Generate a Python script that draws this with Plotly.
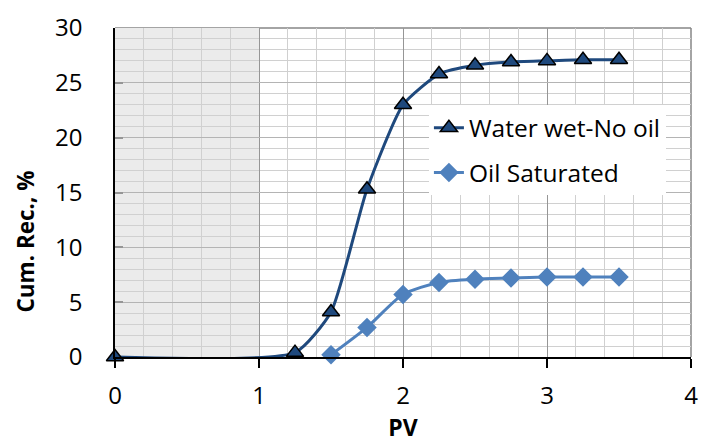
import plotly.graph_objects as go

# Cumulative recovery vs. pore volumes injected
pv_water = [0, 1.25, 1.5, 1.75, 2.0, 2.25, 2.5, 2.75, 3.0, 3.25, 3.5]
rec_water = [0, 0.4, 4.1, 15.3, 23.0, 25.8, 26.6, 26.9, 27.0, 27.1, 27.1]

pv_oil = [1.5, 1.75, 2.0, 2.25, 2.5, 2.75, 3.0, 3.25, 3.5]
rec_oil = [0.2, 2.7, 5.7, 6.8, 7.1, 7.2, 7.3, 7.3, 7.3]

x_ticks = [0, 1, 2, 3, 4]
y_ticks = [0, 5, 10, 15, 20, 25, 30]

DARK = "#1F497D"
LIGHT = "#4F81BD"
FONT = "Open Sans"

fig = go.Figure()

fig.add_trace(go.Scatter(
    x=pv_water, y=rec_water, name="Water wet-No oil",
    mode="lines+markers", line=dict(color=DARK, width=3, shape="spline", smoothing=0.55),
    marker=dict(symbol="triangle-up", size=15, color=DARK, line=dict(color="black", width=1.5)),
    legendgroup="a", cliponaxis=False,
))
fig.add_trace(go.Scatter(
    x=pv_oil, y=rec_oil, name="Oil Saturated",
    mode="lines+markers", line=dict(color=LIGHT, width=3, shape="spline", smoothing=0.7),
    marker=dict(symbol="diamond", size=15, color=LIGHT),
    legendgroup="b", cliponaxis=False,
))

# shaded band for the first pore volume
fig.add_shape(type="rect", xref="x", yref="y", x0=0, x1=1, y0=0, y1=30,
              fillcolor="#EBEBEB", line=dict(width=0), layer="below")
# top and right frame
fig.add_shape(type="line", xref="x domain", yref="y domain", x0=0, x1=1, y0=1, y1=1,
              line=dict(color="#868686", width=1.5), layer="below")
fig.add_shape(type="line", xref="x domain", yref="y domain", x0=1, x1=1, y0=0, y1=1,
              line=dict(color="#868686", width=1.5), layer="below")

# y-axis title, set lower than the plot centre
fig.add_annotation(
    text="<b>Cum. Rec., %</b>", textangle=-90,
    xref="paper", yref="paper", x=-0.155, y=0.35,
    xanchor="center", yanchor="middle", showarrow=False,
    font=dict(size=22.5, family=FONT, color="black"),
)

fig.update_layout(
    width=708, height=443,
    margin=dict(l=115, r=10, t=21, b=86),
    paper_bgcolor="white", plot_bgcolor="white",
    font=dict(family=FONT, color="black"),
    showlegend=True,
    legend=dict(
        x=0.545, y=0.765, xanchor="left", yanchor="top",
        bgcolor="white", font=dict(size=24.5, family=FONT),
        tracegroupgap=10, traceorder="grouped",
    ),
    xaxis=dict(
        range=[0, 4], tickvals=x_ticks, ticktext=[str(v) for v in x_ticks],
        showgrid=True, gridcolor="#969696", gridwidth=1,
        minor=dict(dtick=0.2, showgrid=True, gridcolor="#D0D0D0", gridwidth=1),
        zeroline=False, showline=True, linecolor="black", linewidth=1.5,
        ticks="outside", ticklen=9, tickcolor="black", tickwidth=1.5,
        tickfont=dict(size=24, family=FONT), ticklabelstandoff=7,
        title=dict(text="<b>PV</b>", font=dict(size=23, family=FONT), standoff=6),
    ),
    yaxis=dict(
        range=[0, 30], tickvals=y_ticks, ticktext=[str(v) for v in y_ticks],
        showgrid=True, gridcolor="#B4B4B4", gridwidth=1,
        minor=dict(dtick=1, showgrid=True, gridcolor="#D0D0D0", gridwidth=1),
        zeroline=False, showline=True, linecolor="black", linewidth=1.5,
        ticks="inside", ticklen=8, tickcolor="#969696", tickwidth=1.5,
        tickfont=dict(size=24, family=FONT), ticklabelstandoff=26,
    ),
)

fig.write_html("out.html")
